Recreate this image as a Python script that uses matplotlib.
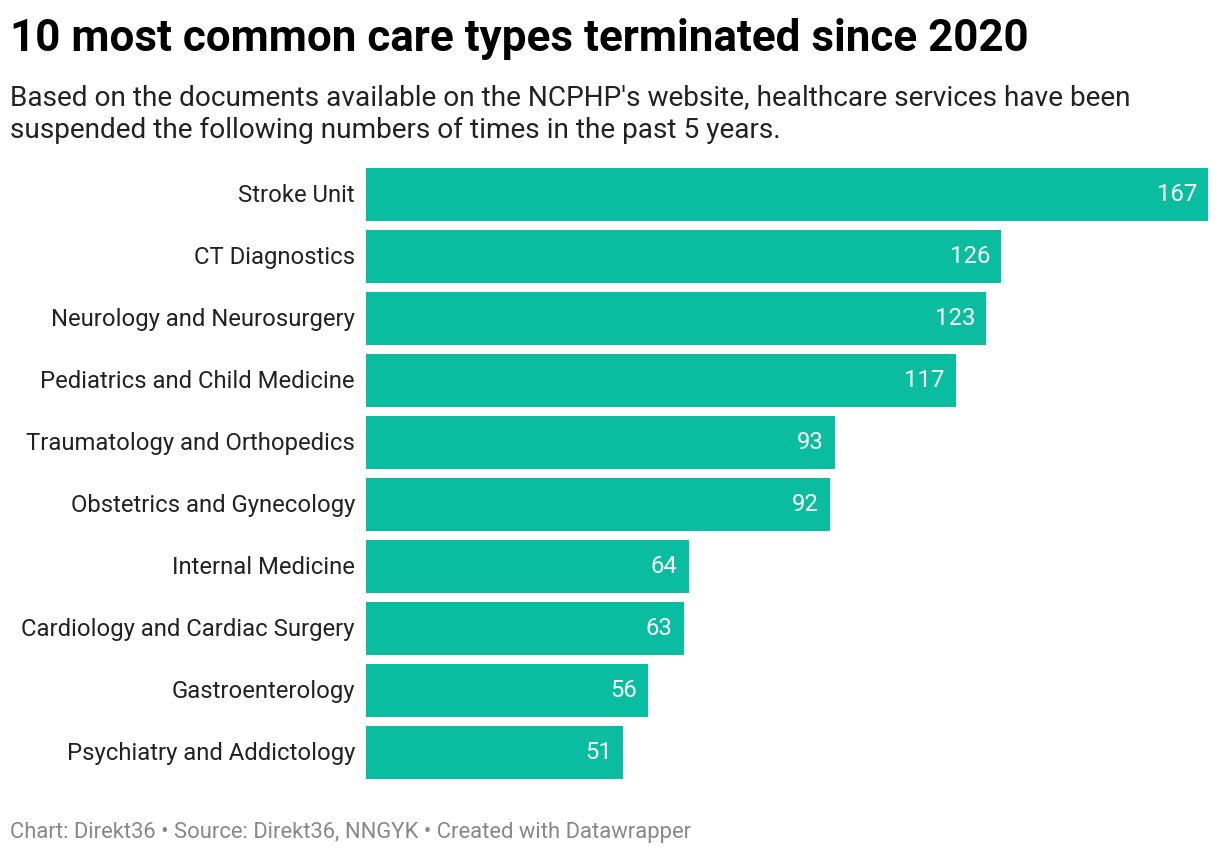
import matplotlib
matplotlib.use("Agg")
import matplotlib.pyplot as plt

categories = ["Stroke Unit", "CT Diagnostics", "Neurology and Neurosurgery",
              "Pediatrics and Child Medicine", "Traumatology and Orthopedics",
              "Obstetrics and Gynecology", "Internal Medicine",
              "Cardiology and Cardiac Surgery", "Gastroenterology",
              "Psychiatry and Addictology"]
values = [167, 126, 123, 117, 93, 92, 64, 63, 56, 51]

title = "10 most common care types terminated since 2020"
subtitle_lines = ["Based on the documents available on the NCPHP's website, healthcare services have been",
                  "suspended the following numbers of times in the past 5 years."]
footer = "Chart: Direkt36 \u2022 Source: Direkt36, NNGYK \u2022 Created with Datawrapper"

plt.rcParams['font.family'] = ['Roboto', 'DejaVu Sans']
W, H = 1220, 856
fig = plt.figure(figsize=(W/100, H/100), dpi=100)

ax_left = 366 / W
ax_right = 1208 / W
ax_top = 1 - 168 / H
ax_bot = 1 - 779 / H
ax = fig.add_axes([ax_left, ax_bot, ax_right - ax_left, ax_top - ax_bot])

bh = 53 / 62
ypos = list(range(len(categories)))
color = "#0ABDA0"
ax.barh(ypos, values, height=bh, color=color)
ax.set_xlim(0, 167)
ax.set_ylim(len(categories) - 1 + bh / 2, -bh / 2)
ax.set_yticks([])
ax.set_xticks([])
for s in ax.spines.values():
    s.set_visible(False)

for y, cat in zip(ypos, categories):
    ax.annotate(cat, xy=(0, y), xycoords=('axes fraction', 'data'),
                xytext=(-8, -0.6), textcoords='offset points',
                ha='right', va='center', color='#222222', fontsize=17.2,
                annotation_clip=False)

for y, v in zip(ypos, values):
    ax.annotate(str(v), xy=(v, y), xytext=(-8, -0.2), textcoords='offset points',
                ha='right', va='center', color='white', fontsize=17.2)

fig.text(10 / W, 1 - 51 / H, title, fontsize=31.7, fontweight='bold',
         color='#000000', ha='left', va='baseline')
fig.text(10 / W, 1 - 105 / H, subtitle_lines[0], fontsize=20.2, color='#222222',
         ha='left', va='baseline')
fig.text(10 / W, 1 - 138 / H, subtitle_lines[1], fontsize=20.2, color='#222222',
         ha='left', va='baseline')
fig.text(10 / W, 1 - 838 / H, footer, fontsize=15.8, color='#888888',
         ha='left', va='baseline')

fig.savefig("out.png", dpi=100)
